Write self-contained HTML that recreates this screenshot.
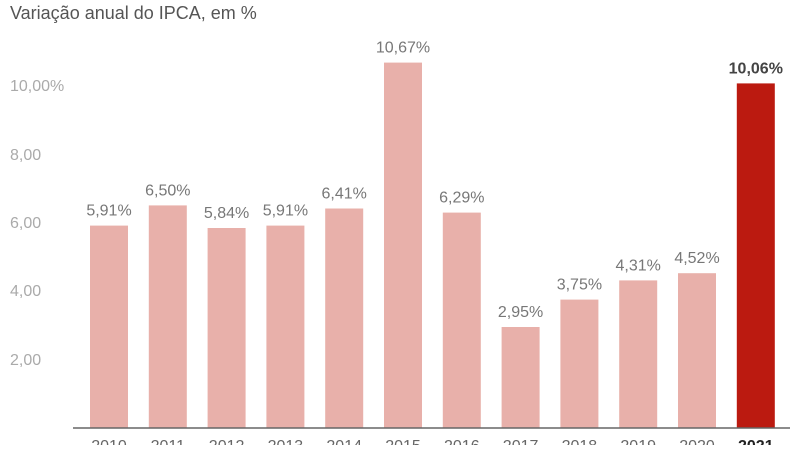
<!DOCTYPE html><html><head><style>body{margin:0;background:#fff}</style></head><body>
<svg width="800" height="445" xmlns="http://www.w3.org/2000/svg" font-family="Liberation Sans, sans-serif">
<text x="10" y="19" font-size="18" fill="#555">Variação anual do IPCA, em %</text>
<g font-size="16" fill="#aaa">
<text x="10" y="91">10,00%</text>
<text x="10" y="160">8,00</text>
<text x="10" y="228">6,00</text>
<text x="10" y="296">4,00</text>
<text x="10" y="365">2,00</text>
</g>
<g fill="#e8b0aa">
<rect x="90" y="225.6" width="38" height="202.4"/>
<rect x="148.8" y="205.4" width="38" height="222.6"/>
<rect x="207.6" y="228" width="38" height="200"/>
<rect x="266.4" y="225.6" width="38" height="202.4"/>
<rect x="325.2" y="208.5" width="38" height="219.5"/>
<rect x="384" y="62.6" width="38" height="365.4"/>
<rect x="442.8" y="212.6" width="38" height="215.4"/>
<rect x="501.6" y="327" width="38" height="101"/>
<rect x="560.4" y="299.6" width="38" height="128.4"/>
<rect x="619.2" y="280.4" width="38" height="147.6"/>
<rect x="678" y="273.2" width="38" height="154.8"/>
</g>
<rect x="736.8" y="83.4" width="38" height="344.6" fill="#bb1a10"/>
<g font-size="16" fill="#777" text-anchor="middle">
<text x="109" y="215.6">5,91%</text>
<text x="167.8" y="195.4">6,50%</text>
<text x="226.6" y="218">5,84%</text>
<text x="285.4" y="215.6">5,91%</text>
<text x="344.2" y="198.5">6,41%</text>
<text x="403" y="52.6">10,67%</text>
<text x="461.8" y="202.6">6,29%</text>
<text x="520.6" y="317">2,95%</text>
<text x="579.4" y="289.6">3,75%</text>
<text x="638.2" y="270.4">4,31%</text>
<text x="697" y="263.2">4,52%</text>
<text x="755.8" y="73.4" fill="#444" font-weight="bold">10,06%</text>
</g>
<g font-size="16" fill="#666" text-anchor="middle">
<text x="109" y="451">2010</text>
<text x="167.8" y="451">2011</text>
<text x="226.6" y="451">2012</text>
<text x="285.4" y="451">2013</text>
<text x="344.2" y="451">2014</text>
<text x="403" y="451">2015</text>
<text x="461.8" y="451">2016</text>
<text x="520.6" y="451">2017</text>
<text x="579.4" y="451">2018</text>
<text x="638.2" y="451">2019</text>
<text x="697" y="451">2020</text>
<text x="755.8" y="451" fill="#222" font-weight="bold">2021</text>
</g>
<line x1="73" y1="428" x2="790" y2="428" stroke="#666" stroke-width="1.5"/>
</svg></body></html>
